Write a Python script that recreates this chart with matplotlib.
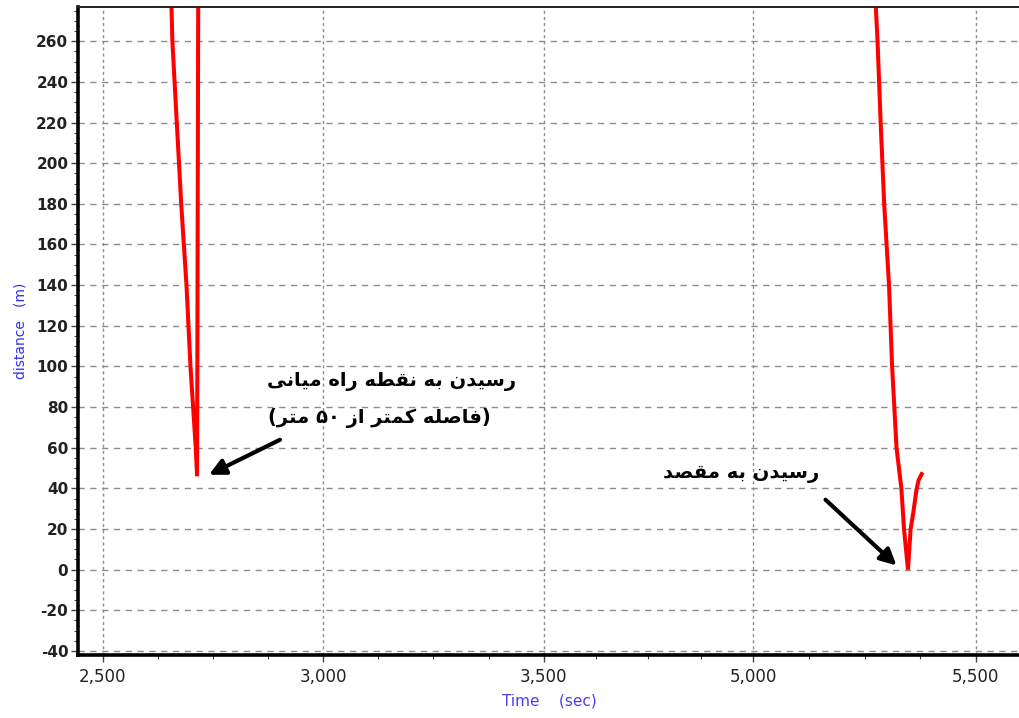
import re
import matplotlib
matplotlib.use("Agg")
import matplotlib.pyplot as plt
from matplotlib.ticker import MultipleLocator, FixedLocator

plt.rcParams['axes.unicode_minus'] = False

# ---------------- data ----------------
t_waypoint = [2656, 2658, 2668, 2678, 2690, 2699, 2705, 2711, 2714, 2717]
d_waypoint = [277, 260, 220, 180, 140, 100, 80, 60, 46, 320]

t_goal = [4253, 4257, 4264, 4272, 4283, 4290, 4300, 4311, 4317, 4326, 4332, 4338, 4345, 4350, 4357]
d_goal = [277, 260, 220, 180, 140, 100, 60, 40, 20, 0, 20, 28, 39, 44, 47]

xtick_pos = [2500, 3000, 3500, 3975, 4480]
xtick_labels = ["2,500", "3,000", "3,500", "5,000", "5,500"]
ytick_vals = list(range(-40, 261, 20))

label_waypoint_1 = "رسیدن به نقطه راه میانی"
label_waypoint_2 = "(فاصله کمتر از ۵۰ متر)"
label_goal = "رسیدن به مقصد"

# ------------- simple Persian shaping (presentation forms) -------------
FORMS = {
    'ا': ('\uFE8D', '\uFE8E', None, None),
    'ب': ('\uFE8F', '\uFE90', '\uFE91', '\uFE92'),
    'ت': ('\uFE95', '\uFE96', '\uFE97', '\uFE98'),
    'د': ('\uFEA9', '\uFEAA', None, None),
    'ر': ('\uFEAD', '\uFEAE', None, None),
    'ز': ('\uFEAF', '\uFEB0', None, None),
    'س': ('\uFEB1', '\uFEB2', '\uFEB3', '\uFEB4'),
    'ص': ('\uFEB9', '\uFEBA', '\uFEBB', '\uFEBC'),
    'ط': ('\uFEC1', '\uFEC2', '\uFEC3', '\uFEC4'),
    'ف': ('\uFED1', '\uFED2', '\uFED3', '\uFED4'),
    'ق': ('\uFED5', '\uFED6', '\uFED7', '\uFED8'),
    'ک': ('\uFB8E', '\uFB8F', '\uFB90', '\uFB91'),
    'ل': ('\uFEDD', '\uFEDE', '\uFEDF', '\uFEE0'),
    'م': ('\uFEE1', '\uFEE2', '\uFEE3', '\uFEE4'),
    'ن': ('\uFEE5', '\uFEE6', '\uFEE7', '\uFEE8'),
    'ه': ('\uFEE9', '\uFEEA', '\uFEEB', '\uFEEC'),
    'ی': ('\uFBFC', '\uFBFD', '\uFBFE', '\uFBFF'),
}


def shape_rtl(s):
    chars = list(s)
    out = []
    for i, c in enumerate(chars):
        if c not in FORMS:
            out.append(c)
            continue
        iso, fin, ini, med = FORMS[c]
        prev = chars[i - 1] if i > 0 else None
        nxt = chars[i + 1] if i + 1 < len(chars) else None
        jp = prev in FORMS and FORMS[prev][2] is not None
        jn = nxt in FORMS and ini is not None
        if jp and jn:
            out.append(med)
        elif jp:
            out.append(fin)
        elif jn:
            out.append(ini)
        else:
            out.append(iso)
    vis = ''.join(reversed(out))
    vis = re.sub(r'[0-9۰-۹]+', lambda m: m.group(0)[::-1], vis)
    vis = vis.translate(str.maketrans({'(': ')', ')': '('}))
    return vis


# ---------------- figure ----------------
fig = plt.figure(figsize=(10.2, 7.18), dpi=100)
ax = fig.add_axes([78 / 1020, 63 / 718, 1 - 78 / 1020, (655 - 6.7) / 718])

ax.plot(t_waypoint, d_waypoint, color='#ff0000', lw=2.9, solid_joinstyle='miter')
ax.plot(t_goal, d_goal, color='#ff0000', lw=2.9, solid_joinstyle='miter')

ax.set_xlim(2444, 4580)
ax.set_ylim(-42, 277)

ax.xaxis.set_major_locator(FixedLocator(xtick_pos))
ax.set_xticklabels(xtick_labels)
minor_x = []
for a, b in zip(xtick_pos[:-1], xtick_pos[1:]):
    minor_x += [a + (b - a) * k / 4 for k in (1, 2, 3)]
ax.xaxis.set_minor_locator(FixedLocator(minor_x))
ax.set_yticks(ytick_vals)
ax.yaxis.set_minor_locator(MultipleLocator(5))

ax.grid(axis='y', which='major', color='#8c8c8c', linestyle=(0, (4.5, 4.0)), lw=1.0)
ax.grid(axis='x', which='major', color='#8c8c8c', linestyle=(0, (2.2, 2.2)), lw=1.0)
ax.set_axisbelow(True)

for side in ('left', 'bottom'):
    ax.spines[side].set_linewidth(2.6)
    ax.spines[side].set_color('black')
ax.spines['top'].set_linewidth(1.4)
ax.spines['top'].set_color('#222222')
ax.spines['right'].set_visible(False)

ax.tick_params(axis='both', which='major', direction='out', length=5, width=1, color='#444444')
ax.tick_params(axis='both', which='minor', direction='out', length=3, width=0.8, color='#444444')
ax.tick_params(axis='y', labelsize=11, labelcolor='#222222', pad=2)
ax.tick_params(axis='x', labelsize=12, labelcolor='#222222', pad=4)
for lab in ax.get_yticklabels():
    lab.set_fontweight('bold')

ax.set_xlabel('Time    (sec)', color='#4b3cf0', fontsize=11, labelpad=6)
ax.set_ylabel('distance   (m)', color='#2f2fff', fontsize=10, labelpad=6)

fa = dict(family=['DejaVu Sans'], fontweight='bold', fontsize=14, color='black',
          ha='center', va='center')
ax.text(3156, 92.5, shape_rtl(label_waypoint_1), **fa)
ax.text(3127, 74.8, shape_rtl(label_waypoint_2), **fa)
ax.text(3948, 47.2, shape_rtl(label_goal), **fa)

arrow = dict(arrowstyle='-|>', color='black', lw=3.0, mutation_scale=24, shrinkA=0, shrinkB=0)
ax.annotate('', xy=(2741, 46.7), xytext=(2902, 63.9), arrowprops=arrow)
ax.annotate('', xy=(4300, 2), xytext=(4139, 34.4), arrowprops=arrow)

fig.savefig('out.png', dpi=100)
